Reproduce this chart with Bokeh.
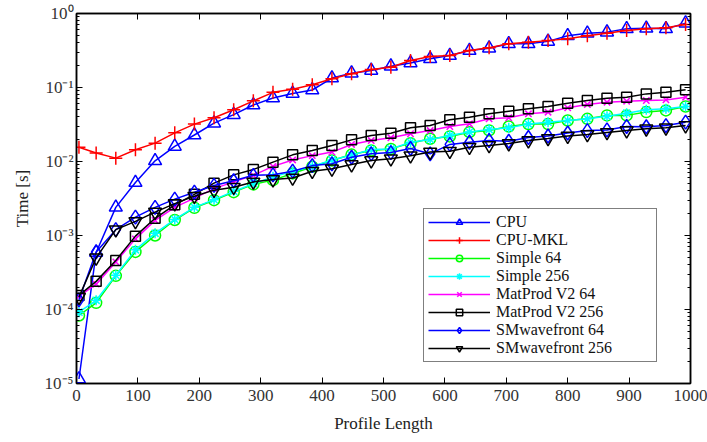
from bokeh.plotting import figure
from bokeh.models import (LogAxis, LinearAxis, FixedTicker, CustomJSTickFormatter,
                          Legend, LegendItem, Range1d)
from bokeh.embed import file_html
from bokeh.resources import INLINE

# ---- data ----
profile_length = [4, 32, 64, 96, 128, 160, 192, 224, 256, 288, 320, 352, 384, 416, 448, 480,
                  512, 544, 576, 608, 640, 672, 704, 736, 768, 800, 832, 864, 896, 928, 960, 992]

cpu = [1.15e-5, 5.9e-4, 2.4e-3, 5.2e-3, 1.02e-2, 1.6e-2, 2.28e-2, 3.3e-2, 4.3e-2, 5.8e-2, 7.2e-2,
       8.3e-2, 9.25e-2, 0.134, 0.156, 0.17, 0.194, 0.215, 0.244, 0.27, 0.316, 0.34, 0.39, 0.39,
       0.42, 0.50, 0.54, 0.56, 0.62, 0.63, 0.62, 0.74]
cpu_mkl = [0.0156, 0.013, 0.0111, 0.0144, 0.0177, 0.0244, 0.032, 0.039, 0.050, 0.066, 0.086,
           0.095, 0.109, 0.131, 0.153, 0.175, 0.188, 0.232, 0.263, 0.27, 0.316, 0.345, 0.39,
           0.41, 0.43, 0.455, 0.50, 0.54, 0.59, 0.62, 0.64, 0.71]
simple_64 = [8.3e-5, 1.23e-4, 2.85e-4, 6.0e-4, 1.0e-3, 1.62e-3, 2.37e-3, 3.0e-3, 3.85e-3, 4.9e-3,
             5.6e-3, 6.9e-3, 8.5e-3, 0.0103, 0.0124, 0.0141, 0.0148, 0.0177, 0.0203, 0.0218,
             0.0249, 0.0263, 0.0297, 0.032, 0.032, 0.0358, 0.0377, 0.042, 0.042, 0.0465, 0.049,
             0.0554]
simple_256 = [9.2e-5, 1.33e-4, 2.9e-4, 6.4e-4, 1.07e-3, 1.65e-3, 2.4e-3, 3.05e-3, 3.95e-3, 5.0e-3,
              6.2e-3, 7.3e-3, 8.6e-3, 0.0105, 0.0122, 0.0145, 0.0148, 0.0182, 0.0198, 0.0225,
              0.025, 0.027, 0.0285, 0.032, 0.034, 0.0358, 0.0377, 0.041, 0.045, 0.050, 0.0515,
              0.0554]
matprod_64 = [1.5e-4, 2.2e-4, 4.4e-4, 9.0e-4, 1.6e-3, 2.4e-3, 3.2e-3, 4.3e-3, 5.3e-3, 6.5e-3,
              8.6e-3, 0.0105, 0.012, 0.0134, 0.017, 0.0192, 0.0209, 0.0237, 0.0262, 0.0297,
              0.0323, 0.0377, 0.039, 0.0441, 0.0464, 0.0531, 0.0589, 0.0633, 0.0653, 0.0667,
              0.068, 0.074]
matprod_256 = [1.55e-4, 2.4e-4, 4.6e-4, 9.8e-4, 1.71e-3, 2.6e-3, 3.6e-3, 5.1e-3, 6.6e-3, 7.8e-3,
               9.8e-3, 0.0123, 0.0141, 0.0165, 0.0196, 0.0225, 0.0241, 0.0285, 0.0306, 0.0366,
               0.0397, 0.0441, 0.0478, 0.0515, 0.0554, 0.0614, 0.0667, 0.0717, 0.074, 0.082,
               0.0863, 0.093]
smwave_64 = [1.35e-4, 6.0e-4, 1.2e-3, 1.77e-3, 2.4e-3, 3.1e-3, 3.85e-3, 4.75e-3, 5.5e-3, 6.5e-3,
             6.6e-3, 7.4e-3, 8.8e-3, 9.3e-3, 0.0114, 0.0127, 0.0132, 0.015, 0.0127, 0.017,
             0.0182, 0.0192, 0.0188, 0.0211, 0.0221, 0.0243, 0.0262, 0.0267, 0.0297, 0.0295,
             0.0306, 0.034]
smwave_256 = [1.47e-4, 5.0e-4, 1.2e-3, 1.55e-3, 2.07e-3, 2.7e-3, 3.4e-3, 4.1e-3, 4.5e-3, 5.3e-3,
              5.7e-3, 6.0e-3, 7.4e-3, 7.96e-3, 9.1e-3, 0.0103, 0.0109, 0.012, 0.0134, 0.0138,
              0.0156, 0.0165, 0.0175, 0.0192, 0.0205, 0.0221, 0.0232, 0.0247, 0.0262, 0.0277,
              0.0285, 0.0306]

x_ticks = [0, 100, 200, 300, 400, 500, 600, 700, 800, 900, 1000]
y_ticks = [1e-5, 1e-4, 1e-3, 1e-2, 1e-1, 1]
y_minor = [m * 10.0 ** e for e in range(-5, 0) for m in range(2, 10)]

series = [
    ("CPU", cpu, "#0000ff", "triangle", 13),
    ("CPU-MKL", cpu_mkl, "#ff0000", "cross", 13),
    ("Simple 64", simple_64, "#00ff00", "circle", 11),
    ("Simple 256", simple_256, "#00ffff", "asterisk", 10),
    ("MatProd V2 64", matprod_64, "#ff00ff", "x", 9),
    ("MatProd V2 256", matprod_256, "#000000", "square", 10),
    ("SMwavefront 64", smwave_64, "#0000ff", "diamond", 14),
    ("SMwavefront 256", smwave_256, "#000000", "inverted_triangle", 13),
]

FONT = "Liberation Serif"

p = figure(width=707, height=442, y_axis_type="log", output_backend="svg",
           toolbar_location=None, x_range=Range1d(0, 1000), y_range=Range1d(1e-5, 1),
           min_border_left=76, min_border_right=17, min_border_top=13, min_border_bottom=59)
p.grid.visible = False
p.outline_line_color = "black"
p.outline_line_width = 1.5
p.background_fill_color = "white"

fmt = CustomJSTickFormatter(code="""
const e = Math.round(Math.log10(tick));
const sup = {"-":"\u207b","0":"\u2070","1":"\u00b9","2":"\u00b2","3":"\u00b3","4":"\u2074","5":"\u2075"};
return "10" + String(e).split("").map(c => sup[c]).join("");
""")
blank = CustomJSTickFormatter(code="return '';")

xa = p.xaxis[0]
xa.ticker = FixedTicker(ticks=x_ticks)
xa.axis_label = "Profile Length"
ya = p.yaxis[0]
ya.ticker = FixedTicker(ticks=y_ticks, minor_ticks=y_minor)
ya.formatter = fmt
ya.axis_label = "Time [s]"

for ax in (xa, ya):
    ax.major_tick_in = 6
    ax.major_tick_out = 0
    ax.minor_tick_in = 3
    ax.minor_tick_out = 0
    ax.axis_line_color = "black"
    ax.axis_line_width = 1.5
    ax.major_label_text_font = FONT
    ax.major_label_text_font_size = "17px"
    ax.major_label_text_color = "#333333"
    ax.axis_label_text_font = FONT
    ax.axis_label_text_font_size = "17px"
    ax.axis_label_text_font_style = "normal"
    ax.axis_label_text_color = "#222222"
xa.minor_tick_in = 0
xa.major_label_standoff = 6
xa.axis_label_standoff = 10
ya.major_label_standoff = 3
ya.axis_label_standoff = 10

top = LinearAxis(ticker=FixedTicker(ticks=x_ticks), formatter=blank,
                 major_tick_in=6, major_tick_out=0, minor_tick_in=0, minor_tick_out=0,
                 axis_line_color="black", axis_line_width=1.5, major_label_standoff=0)
right = LogAxis(ticker=FixedTicker(ticks=y_ticks, minor_ticks=y_minor), formatter=blank,
                major_tick_in=6, major_tick_out=0,
                minor_tick_in=3, minor_tick_out=0, axis_line_color="black",
                axis_line_width=1.5, major_label_standoff=0)
p.add_layout(top, "above")
p.add_layout(right, "right")

items = []
for name, vals, color, marker, size in series:
    lr = p.line(profile_length, vals, line_color=color, line_width=1.5)
    sr = p.scatter(profile_length, vals, marker=marker, size=size, line_color=color,
                   fill_color=None, line_width=1.5)
    items.append(LegendItem(label=name, renderers=[lr, sr]))

legend = Legend(items=items, location=(347, 21), label_text_font=FONT,
                label_text_font_size="16px",
                label_text_color="#111111",
                glyph_width=62, glyph_height=16, label_height=16, label_width=156,
                spacing=0, label_standoff=6, padding=4, margin=0,
                border_line_color="black", border_line_width=1.2,
                background_fill_alpha=1.0)
p.add_layout(legend, "center")

open("out.html", "w").write(file_html(p, INLINE))
